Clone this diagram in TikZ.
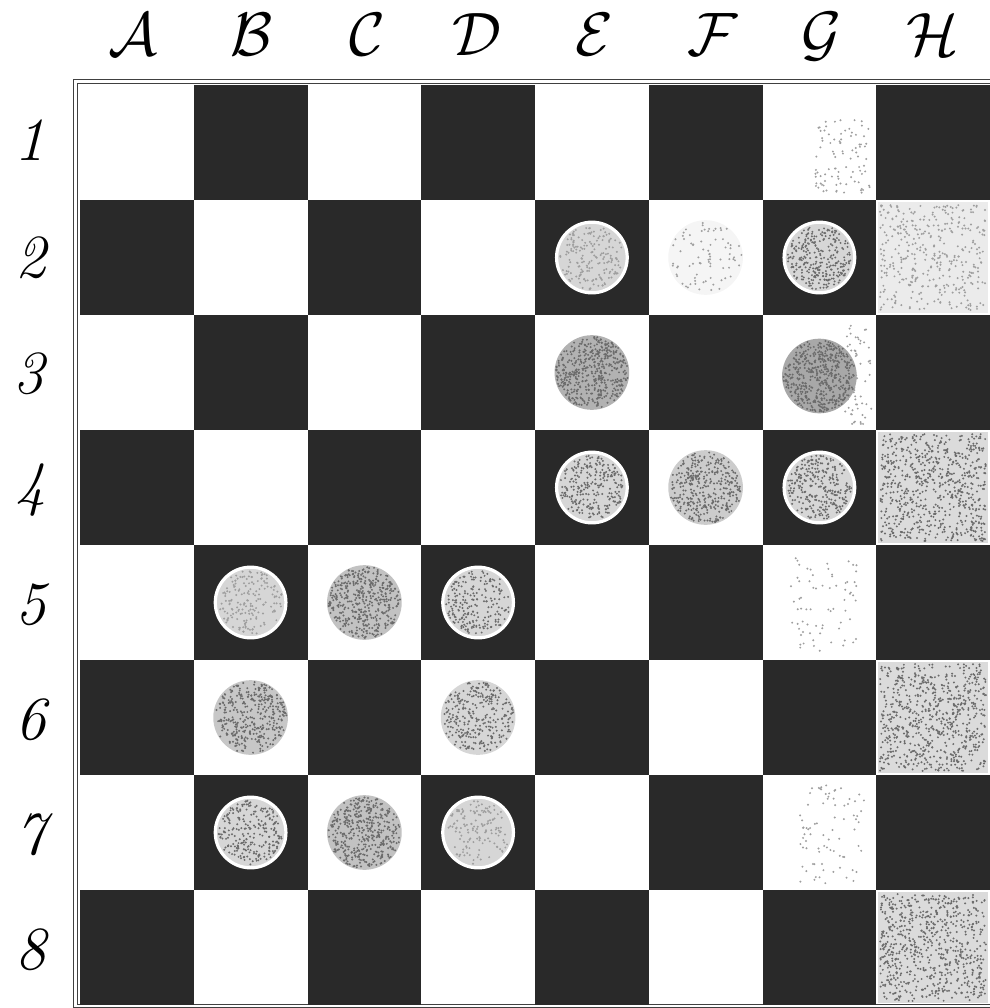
\documentclass[tikz,border=0pt]{standalone}
\usepackage{fontspec}
\font\calfont=cmsy10 at 46pt
\newcommand\speckdisc[5]{% cx, cy, radius, count, colour
  \foreach \i in {1,...,#4}{%
    \pgfmathsetmacro\sang{360*rnd}%
    \pgfmathsetmacro\srad{#3*sqrt(rnd)}%
    \fill[#5] ({#1+\srad*cos(\sang)},{#2+\srad*sin(\sang)}) circle (1.1);
  }}
\newcommand\speckrect[6]{% x0, y0, x1, y1, count, colour
  \foreach \i in {1,...,#5}{%
    \pgfmathsetmacro\sx{#1+(#3-#1)*rnd}%
    \pgfmathsetmacro\sy{#2+(#4-#2)*rnd}%
    \fill[#6] (\sx,\sy) circle (1.1);
  }}
\begin{document}
\begin{tikzpicture}[x=0.75pt,y=-0.75pt]
\pgfmathsetseed{11}
\tikzset{
  darksq/.style={fill=black!84},
  rimpiece/.style={circle, fill=black!16, draw=white, line width=2.4pt, minimum size=53pt, inner sep=0pt},
  flatpiece/.style={circle, fill=black!30, minimum size=56pt, inner sep=0pt},
  collabel/.style={font=\calfont, inner sep=0pt},
  rowlabel/.style={font=\fontsize{46}{48}\selectfont\itshape, inner sep=0pt},
  frameline/.style={draw=black!75, line width=0.7pt},
  dotdark/.style={fill=black!58},
  dotlight/.style={fill=black!38}
}
\useasboundingbox (0,0) rectangle (990,1008);
% frame
\draw[frameline] (73,79) rectangle (996,1007);
\draw[frameline] (77,83) rectangle (993,1004);
% speckled light squares
\fill[black!8] (878,202) rectangle (988,313);
\speckrect{880}{205}{986}{310}{380}{dotlight}
\fill[black!14] (878,432) rectangle (988,543);
\speckrect{880}{434}{986}{541}{700}{dotdark}
\fill[black!14] (878,662) rectangle (988,773);
\speckrect{880}{664}{986}{771}{700}{dotdark}
\fill[black!14] (878,892) rectangle (988,1003);
\speckrect{880}{894}{986}{1001}{700}{dotdark}
\speckrect{815}{120}{870}{195}{90}{dotlight}
\speckrect{845}{325}{872}{425}{70}{dotlight}
\speckrect{790}{555}{860}{655}{70}{dotlight}
\speckrect{800}{785}{865}{885}{80}{dotlight}
% squares
\foreach \c in {0,...,7}{
  \foreach \r in {0,...,7}{
    \pgfmathtruncatemacro\odd{mod(\c+\r,2)}
    \ifnum\odd=1
      \fill[darksq] ({80+\c*113.75},{85+\r*115}) rectangle ++(113.75,115);
    \fi
  }
}
% column labels
\node[collabel] (lA) at (133,35) {A};
\node[collabel] (lB) at (251,35) {B};
\node[collabel] (lC) at (366,35) {C};
\node[collabel] (lD) at (476,35) {D};
\node[collabel] (lE) at (592,35) {E};
\node[collabel] (lF) at (710,35) {F};
\node[collabel] (lG) at (820,37) {G};
\node[collabel] (lH) at (932,35) {H};
% row labels
\node[rowlabel] (r1) at (30,140) {1};
\node[rowlabel] (r2) at (31,258) {2};
\node[rowlabel] (r3) at (29,374) {3};
\node[rowlabel] (r4) at (31,490) {4};
\node[rowlabel] (r5) at (31,605) {5};
\node[rowlabel] (r6) at (31,720) {6};
\node[rowlabel] (r7) at (31,835) {7};
\node[rowlabel] (r8) at (31,950) {8};
% pieces on dark squares
\node[rimpiece] (pE2) at (591.9,257.5) {};
\node[rimpiece] (pG2) at (819.4,257.5) {};
\node[rimpiece] (pE4) at (591.9,487.5) {};
\node[rimpiece] (pG4) at (819.4,487.5) {};
\node[rimpiece] (pB5) at (250.6,602.5) {};
\node[rimpiece] (pD5) at (478.1,602.5) {};
\node[rimpiece] (pB7) at (250.6,832.5) {};
\node[rimpiece] (pD7) at (478.1,832.5) {};
\speckdisc{591.9}{257.5}{32}{180}{dotlight}
\speckdisc{819.4}{257.5}{32}{280}{dotdark}
\speckdisc{591.9}{487.5}{32}{250}{dotdark}
\speckdisc{819.4}{487.5}{32}{280}{dotdark}
\speckdisc{250.6}{602.5}{32}{170}{dotlight}
\speckdisc{478.1}{602.5}{32}{210}{dotdark}
\speckdisc{250.6}{832.5}{32}{240}{dotdark}
\speckdisc{478.1}{832.5}{32}{140}{dotlight}
% pieces on light squares
\node[flatpiece, fill=black!4] (pF2) at (705.6,257.5) {};
\speckdisc{705.6}{257.5}{36}{80}{dotlight}
\node[flatpiece, fill=black!30] (pE3) at (591.9,372.5) {};
\speckdisc{591.9}{372.5}{36}{460}{dotdark}
\node[flatpiece, fill=black!34] (pG3) at (819.4,376) {};
\speckdisc{819.4}{376}{36}{500}{dotdark}
\node[flatpiece, fill=black!20] (pF4) at (705.6,487.5) {};
\speckdisc{705.6}{487.5}{36}{360}{dotdark}
\node[flatpiece, fill=black!24] (pC5) at (364.4,602.5) {};
\speckdisc{364.4}{602.5}{36}{420}{dotdark}
\node[flatpiece, fill=black!22] (pB6) at (250.6,717.5) {};
\speckdisc{250.6}{717.5}{36}{360}{dotdark}
\node[flatpiece, fill=black!16] (pD6) at (478.1,717.5) {};
\speckdisc{478.1}{717.5}{36}{300}{dotdark}
\node[flatpiece, fill=black!24] (pC7) at (364.4,832.5) {};
\speckdisc{364.4}{832.5}{36}{420}{dotdark}
\end{tikzpicture}
\end{document}
